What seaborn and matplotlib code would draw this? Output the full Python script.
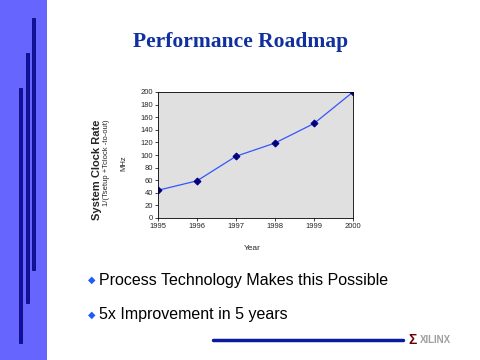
import matplotlib
matplotlib.use("Agg")
import matplotlib.pyplot as plt
import seaborn as sns
import pandas as pd
from matplotlib.patches import Rectangle

# data
years = [1995, 1996, 1997, 1998, 1999, 2000]
clock_mhz = [44, 59, 98, 119, 150, 200]
y_ticks = list(range(0, 201, 20))
bullets = ["Process Technology Makes this Possible", "5x Improvement in 5 years"]

df = pd.DataFrame({"Year": years, "MHz": clock_mhz})

sns.set_theme(style="white")
plt.rcParams["font.family"] = ["Liberation Sans", "DejaVu Sans"]

W, H = 480, 360
fig = plt.figure(figsize=(4.8, 3.6), dpi=100)
fig.patch.set_facecolor("white")

# left sidebar with three vertical bars
fig.patches.append(Rectangle((0, 0), 47 / W, 1, transform=fig.transFigure,
                             facecolor="#6666FF", edgecolor="none", zorder=0))
for x, y0, y1 in [(33, 18, 270), (27, 53, 303), (20, 88, 343)]:
    fig.patches.append(Rectangle(((x - 1.5) / W, 1 - y1 / H), 3 / W, (y1 - y0) / H,
                                 transform=fig.transFigure, facecolor="#1010A8",
                                 edgecolor="#000060", linewidth=0.5, zorder=1))

fig.text(241 / W, 1 - 42 / H, "Performance Roadmap", ha="center", va="center",
         fontsize=15.5, fontweight="bold", color="#1030A0", family="Liberation Serif")

# chart
ax = fig.add_axes([158 / W, 1 - 218 / H, 195 / W, 126 / H])
ax.set_facecolor("#E0E0E0")
sns.lineplot(data=df, x="Year", y="MHz", ax=ax, color="#3355FF", linewidth=0.9,
             marker="D", markersize=3.5, markerfacecolor="#000080",
             markeredgecolor="#000080")
ax.set_xlim(1995, 2000)
ax.set_ylim(0, 200)
ax.set_yticks(y_ticks)
ax.set_xticks(years)
ax.tick_params(labelsize=5.5, length=2, width=0.6, direction="out", pad=1.5,
               left=True, bottom=True)
for s in ax.spines.values():
    s.set_linewidth(0.6)
    s.set_color("black")
ax.set_xlabel("")
ax.set_ylabel("")

fig.text(252 / W, 1 - 248 / H, "Year", ha="center", va="center", fontsize=6)
fig.text(97 / W, 1 - 170 / H, "System Clock Rate", rotation=90, ha="center",
         va="center", fontsize=8, fontweight="bold")
fig.text(106 / W, 1 - 163 / H, "1/(Tsetup +Tclock -to-out)", rotation=90,
         ha="center", va="center", fontsize=5.5)
fig.text(124 / W, 1 - 163 / H, "MHz", rotation=90, ha="center", va="center",
         fontsize=5.5)

# bullets
for i, txt in enumerate(bullets):
    y = 1 - (280 + 35 * i) / H
    fig.text(92 / W, y, "\u25c6", ha="center", va="center", fontsize=7,
             color="#1E5AFF", family="DejaVu Sans")
    fig.text(99 / W, y, txt, ha="left", va="center", fontsize=11.5,
             color="black")

# footer line + logo
fig.add_artist(plt.Line2D([213 / W, 403 / W], [1 - 340 / H, 1 - 340 / H],
                          color="#0A1A9A", linewidth=2.5))
fig.text(408 / W, 1 - 340 / H, "\u03a3", ha="left", va="center", fontsize=10,
         fontweight="bold", color="#6B0000")
fig.text(420 / W, 1 - 340 / H, "XILINX", ha="left", va="center", fontsize=7,
         fontweight="bold", color="#A0A0A0")

fig.savefig("out.png", dpi=100)
